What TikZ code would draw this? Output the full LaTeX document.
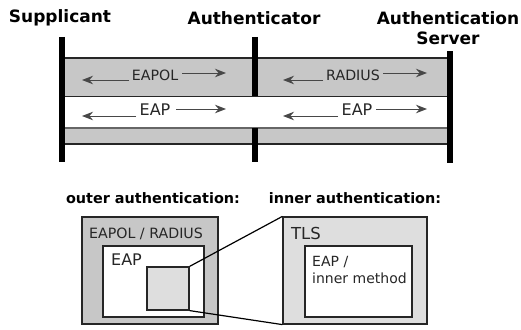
\documentclass[tikz,border=0pt]{standalone}
\usepackage{fontspec}
\setmainfont{DejaVu Sans}
\usetikzlibrary{arrows.meta}
\tikzset{
  x=1pt,y=-1pt,
  party/.style={font=\bfseries\fontsize{17}{20}\selectfont,inner sep=0pt,align=center,text=black},
  caption/.style={font=\bfseries\fontsize{14.4}{17}\selectfont,inner sep=0pt,text=black},
  life/.style={line width=6pt,black},
  band/.style={fill=bandgray,draw=none},
  edge/.style={line width=1.2pt,draw=black!85},
  flow/.style={line width=1pt,draw=flowgray,-{Stealth[length=11pt,width=8.5pt]}},
  small/.style={font=\fontsize{14.2}{17}\selectfont,inner sep=0pt,text=black!85},
  big/.style={font=\fontsize{16}{19}\selectfont,inner sep=0pt,text=black!85},
  boxd/.style={draw=black!85,line width=1.2pt,inner sep=0pt},
}
\definecolor{bandgray}{gray}{0.78}
\definecolor{flowgray}{gray}{0.28}
\definecolor{lightg}{gray}{0.87}
\begin{document}
\begin{tikzpicture}
\useasboundingbox (0,0) rectangle (521,329);
% bands
\fill[band] (62,58) rectangle (450,96);
\fill[band] (62,128) rectangle (450,144);
\draw[edge] (62,58) -- (450,58);
\draw[edge,line width=.8pt] (62,96) -- (450,96);
\draw[edge,draw=black!60] (62,128) -- (450,128);
\draw[edge] (62,144) -- (450,144);
% lifelines
\coordinate (s1) at (62,37); \coordinate (s2) at (62,162);
\coordinate (a1) at (255,37); \coordinate (a2) at (255,96);
\coordinate (a3) at (255,128); \coordinate (a4) at (255,162);
\coordinate (v1) at (450,51); \coordinate (v2) at (450,163);
\draw[life] (s1) -- (s2);
\draw[life] (a1) -- (a2);
\draw[life] (a3) -- (a4);
\draw[life] (v1) -- (v2);
% headers
\node[party] (sup) at (60,18) {Supplicant};
\node[party] (aut) at (254,18) {Authenticator};
\node[party] (srv) at (448,28) {Authentication\\Server};
% labels and arrows
\node[small] (eapol) at (155,75) {EAPOL};
\node[small] (radius) at (353,75) {RADIUS};
\node[big] (eap1) at (155,110) {EAP};
\node[big] (eap2) at (357,110) {EAP};
\coordinate (l1) at (82,80); \coordinate (r1) at (226,73);
\coordinate (l2) at (283,80); \coordinate (r2) at (427,73);
\coordinate (l3) at (82,116); \coordinate (r3) at (226,109);
\coordinate (l4) at (283,116); \coordinate (r4) at (427,109);
\draw[flow] (129,80) -- (l1);
\draw[flow] (182,73) -- (r1);
\draw[flow] (323,80) -- (l2);
\draw[flow] (383,73) -- (r2);
\draw[flow] (136,116) -- (l3);
\draw[flow] (176,109) -- (r3);
\draw[flow] (338,116) -- (l4);
\draw[flow] (376,109) -- (r4);
% lower part
\node[caption] (outer) at (153,198) {outer authentication:};
\node[caption] (inner) at (355,198) {inner authentication:};
\node[boxd,fill=bandgray,minimum width=136pt,minimum height=107pt] (obox) at (150,270.5) {};
\node[boxd,fill=white,minimum width=101pt,minimum height=71pt] (ebox) at (153.5,281.5) {};
\node[boxd,fill=lightg,minimum width=144pt,minimum height=107pt] (tbox) at (355,270.5) {};
\node[boxd,fill=white,minimum width=107pt,minimum height=71pt] (ibox) at (358.5,281.5) {};
\node[boxd,fill=lightg,minimum width=42pt,minimum height=43pt] (sbox) at (168,288.5) {};
\draw[line width=1.2pt,black] (sbox.north east) -- (tbox.north west);
\draw[line width=1.2pt,black] (sbox.south east) -- (tbox.south west);
\node[small] (l5) at (146,234) {EAPOL / RADIUS};
\node[big] (l6) at (126.5,260) {EAP};
\node[big,font=\fontsize{16.5}{19}\selectfont] (l7) at (306,233) {TLS};
\node[small,align=left,anchor=north west,font=\fontsize{14}{17}\selectfont] (l8) at (312,256) {EAP /\\inner method};
\end{tikzpicture}
\end{document}
